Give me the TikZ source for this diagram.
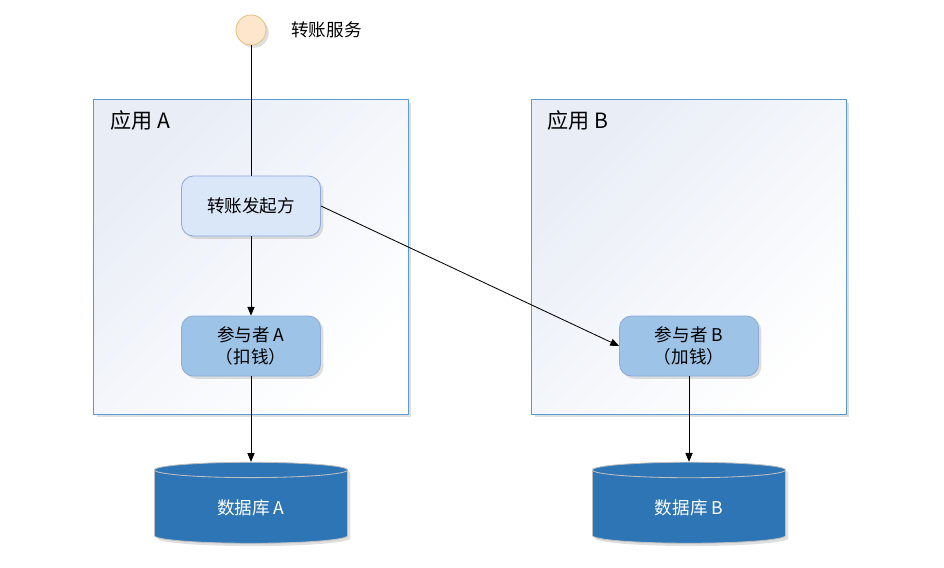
\documentclass[tikz,border=0pt]{standalone}
\usepackage{fontspec}
\newfontfamily\cjk{Noto Sans CJK SC}
\usetikzlibrary{shapes.geometric,shadows,arrows.meta}
\definecolor{appborder}{HTML}{5B9BD5}
\definecolor{appshade}{HTML}{E8EDF6}
\definecolor{startfill}{HTML}{FDE6CC}
\definecolor{startdraw}{HTML}{E6C07B}
\definecolor{initfill}{HTML}{DAE7F8}
\definecolor{initdraw}{HTML}{8FAADC}
\definecolor{partfill}{HTML}{9DC3E6}
\definecolor{partdraw}{HTML}{8FAADC}
\definecolor{dbfill}{HTML}{2E75B6}
\tikzset{
	softshadow/.style={drop shadow={opacity=0.25, shadow xshift=0.07cm, shadow yshift=-0.07cm}},
	appbox/.style={draw=appborder, line width=0.7pt, top color=appshade, bottom color=white, shading angle=45, minimum width=7.85cm, minimum height=7.85cm, softshadow},
	apptitle/.style={anchor=west, inner sep=0pt, font=\cjk\fontsize{15}{18}\selectfont},
	rolebox/.style={rounded corners=0.3cm, line width=0.6pt, minimum width=3.475cm, minimum height=1.5cm, align=center, font=\cjk\fontsize{12.5}{16}\selectfont, softshadow},
	dbcyl/.style={cylinder, shape border rotate=90, aspect=0.2, draw=white!75!black, line width=0.6pt, fill=dbfill, minimum width=4.825cm, minimum height=2.025cm, text=white, font=\cjk\fontsize{12.5}{16}\selectfont, softshadow},
	arr/.style={-{Triangle[length=0.22cm,width=0.18cm]}, line width=0.6pt}
}

\begin{document}
\begin{tikzpicture}[x=0.025cm, y=-0.025cm]
			%%%%% START %%%%%
			\useasboundingbox (0,0) rectangle (944,567);
			
			\node[appbox] (appA) at (251,257) {};
			\node[appbox] (appB) at (689,257) {};
			\node[apptitle] (titleA) at (110,120) {应用 A};
			\node[apptitle] (titleB) at (547,120) {应用 B};
			
			\node[circle, draw=startdraw, fill=startfill, line width=0.6pt, minimum size=0.75cm, softshadow] (start) at (251,30) {};
			\node[anchor=west, inner sep=0pt, font=\cjk\fontsize{12.5}{16}\selectfont] (startlabel) at (291,30) {转账服务};
			
			\node[rolebox, draw=initdraw, fill=initfill] (init) at (251,206) {转账发起方};
			\node[rolebox, draw=partdraw, fill=partfill] (partA) at (251,346) {参与者 A\\（扣钱）};
			\node[rolebox, draw=partdraw, fill=partfill] (partB) at (689,346) {参与者 B\\（加钱）};
			
			\node[dbcyl] (dbA) at (251,508) {数据库 A};
			\node[dbcyl] (dbB) at (689,508) {数据库 B};
			
			\draw[line width=0.6pt] (start) -- (init);
			\draw[arr] (init) -- (partA);
			\draw[arr] (init.east) -- (partB.west);
			\draw[arr] (partA) -- (dbA);
			\draw[arr] (partB) -- (dbB);
			%%%%% END %%%%%
\end{tikzpicture}
\end{document}
